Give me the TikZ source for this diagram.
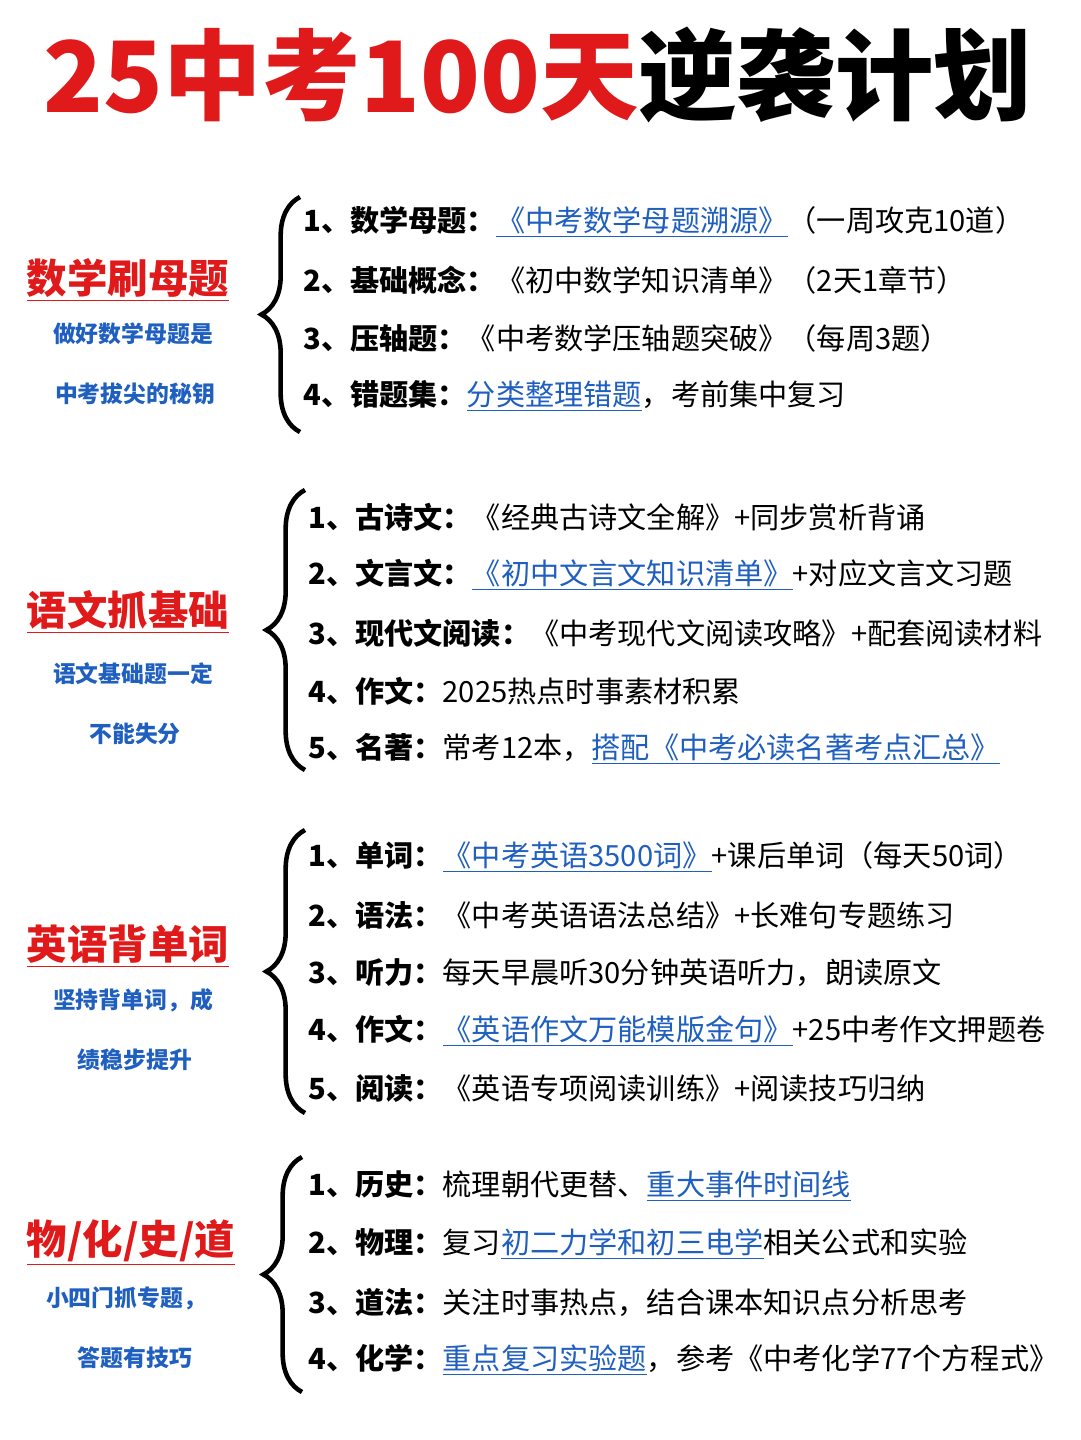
\documentclass[tikz,border=0pt]{standalone}
\usepackage{fontspec}
\setmainfont{Noto Sans CJK SC}
\usetikzlibrary{decorations.pathreplacing}
\definecolor{tred}{HTML}{E01A1A}
\definecolor{lblue}{HTML}{1F5FBF}
\newcommand{\lnk}[1]{\textcolor{lblue}{\underline{#1}}}
\newcommand{\hd}[1]{\textbf{#1}}
\tikzset{
  item/.style={anchor=west, inner sep=0pt, font=\fontsize{16.6}{18}\selectfont},
  cat/.style={inner sep=0pt, text=tred, font=\fontsize{23}{25}\selectfont\bfseries},
  sub/.style={inner sep=0pt, text=lblue, font=\fontsize{13}{15}\selectfont\bfseries},
  brc/.style={decorate, decoration={brace, amplitude=22, mirror, raise=0pt}, line width=2.6pt}
}
\begin{document}
\begin{tikzpicture}[x=0.02cm,y=-0.02cm]
\useasboundingbox (0,0) rectangle (1080,1440);
\fill[white] (0,0) rectangle (1080,1440);
\node[inner sep=0pt, font=\fontsize{56}{60}\selectfont\bfseries] (title) at (538,75) {\textcolor{tred}{25中考100天}逆袭计划};
%% math
\node[cat] (c1) at (128,280) {\underline{数学刷母题}};
\node[sub] (s1a) at (133,334) {做好数学母题是};
\node[sub] (s1b) at (135,394) {中考拔尖的秘钥};
\coordinate (b1t) at (300,197); \coordinate (b1b) at (300,432);
\draw[brc] (b1t) -- (b1b);
\node[item] (m1) at (303,222) {\hd{1、数学母题：}\lnk{《中考数学母题溯源》}（一周攻克10道）};
\node[item] (m2) at (303,280) {\hd{2、基础概念：}《初中数学知识清单》（2天1章节）};
\node[item] (m3) at (303,338) {\hd{3、压轴题：}《中考数学压轴题突破》（每周3题）};
\node[item] (m4) at (303,396) {\hd{4、错题集：}\lnk{分类整理错题}，考前集中复习};
%% chinese
\node[cat] (c2) at (128,612) {\underline{语文抓基础}};
\node[sub] (s2a) at (133,674) {语文基础题一定};
\node[sub] (s2b) at (135,734) {不能失分};
\coordinate (b2t) at (305,490); \coordinate (b2b) at (305,770);
\draw[brc] (b2t) -- (b2b);
\node[item] (y1) at (308,517) {\hd{1、古诗文：}《经典古诗文全解》+同步赏析背诵};
\node[item] (y2) at (308,575) {\hd{2、文言文：}\lnk{《初中文言文知识清单》}+对应文言文习题};
\node[item] (y3) at (308,633) {\hd{3、现代文阅读：}《中考现代文阅读攻略》+配套阅读材料};
\node[item] (y4) at (308,691) {\hd{4、作文：}2025热点时事素材积累};
\node[item] (y5) at (308,749) {\hd{5、名著：}常考12本，\lnk{搭配《中考必读名著考点汇总》}};
%% english
\node[cat] (c3) at (128,946) {\underline{英语背单词}};
\node[sub] (s3a) at (133,1000) {坚持背单词，成};
\node[sub] (s3b) at (135,1060) {绩稳步提升};
\coordinate (b3t) at (305,830); \coordinate (b3b) at (305,1113);
\draw[brc] (b3t) -- (b3b);
\node[item] (e1) at (308,857) {\hd{1、单词：}\lnk{《中考英语3500词》}+课后单词（每天50词）};
\node[item] (e2) at (308,915) {\hd{2、语法：}《中考英语语法总结》+长难句专题练习};
\node[item] (e3) at (308,973) {\hd{3、听力：}每天早晨听30分钟英语听力，朗读原文};
\node[item] (e4) at (308,1031) {\hd{4、作文：}\lnk{《英语作文万能模版金句》}+25中考作文押题卷};
\node[item] (e5) at (308,1089) {\hd{5、阅读：}《英语专项阅读训练》+阅读技巧归纳};
%% others
\node[cat] (c4) at (131,1242) {\underline{物/化/史/道}};
\node[sub] (s4a) at (126,1298) {小四门抓专题，};
\node[sub] (s4b) at (135,1358) {答题有技巧};
\coordinate (b4t) at (302,1157); \coordinate (b4b) at (302,1392);
\draw[brc] (b4t) -- (b4b);
\node[item] (o1) at (308,1186) {\hd{1、历史：}梳理朝代更替、\lnk{重大事件时间线}};
\node[item] (o2) at (308,1244) {\hd{2、物理：}复习\lnk{初二力学和初三电学}相关公式和实验};
\node[item] (o3) at (308,1302) {\hd{3、道法：}关注时事热点，结合课本知识点分析思考};
\node[item] (o4) at (308,1360) {\hd{4、化学：}\lnk{重点复习实验题}，参考《中考化学77个方程式》};
\end{tikzpicture}
\end{document}
